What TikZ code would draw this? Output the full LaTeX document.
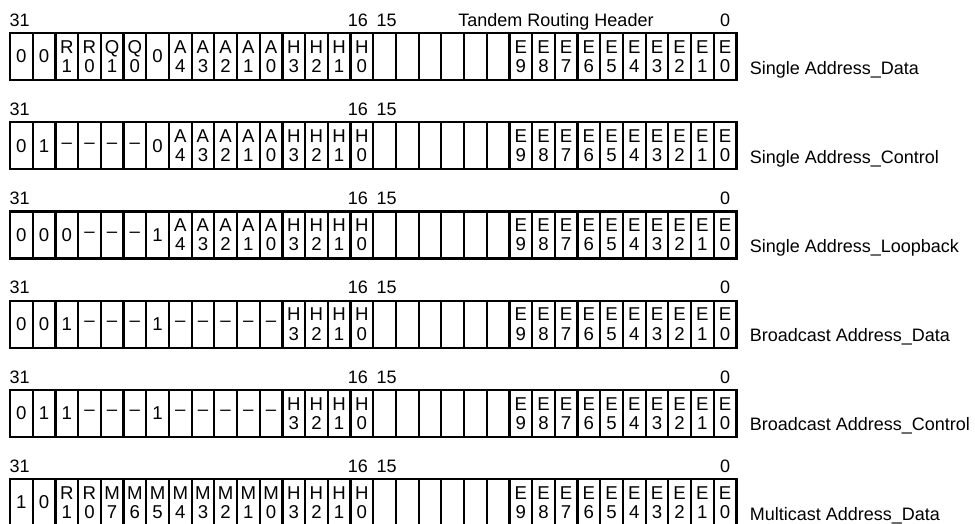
\documentclass[tikz,border=0pt]{standalone}
\usepackage{fontspec}
\setmainfont{Liberation Sans}
\usetikzlibrary{positioning}

\tikzset{
  bitcell/.style={draw, line width=1.1pt, minimum width=11.35pt, minimum height=23.5pt,
    inner sep=0pt, align=center, font=\fontsize{9.3}{9.6}\selectfont},
  bitnum/.style={inner sep=0pt, font=\fontsize{9}{9}\selectfont},
  rowname/.style={inner sep=0pt, anchor=base west, font=\fontsize{9}{9}\selectfont},
}

\begin{document}
\begin{tikzpicture}[x=0.5pt, y=-0.5pt]
  \useasboundingbox (0,0) rectangle (975,524);

  % Lower half-word: bits 15..0, same in every row
  \foreach \rname/\ytop in {sdata/33, sctrl/122.2, sloop/211.4, bdata/300.6, bctrl/389.8, mdata/479} {
    \foreach \txt [count=\c from 16] in {{},{},{},{},{},{},
        {E\\9},{E\\8},{E\\7},{E\\6},{E\\5},{E\\4},{E\\3},{E\\2},{E\\1},{E\\0}} {
      \pgfmathtruncatemacro\b{31-\c}
      \node[bitcell] (\rname-\b) at (21.35+22.7*\c, \ytop+23.5) {\txt};
    }
  }

  % Upper half-word: bits 31..16
  \foreach \txt [count=\c from 0] in {0,0,{R\\1},{R\\0},{Q\\1},{Q\\0},0,
      {A\\4},{A\\3},{A\\2},{A\\1},{A\\0},{H\\3},{H\\2},{H\\1},{H\\0}} {
    \pgfmathtruncatemacro\b{31-\c}
    \node[bitcell] (sdata-\b) at (21.35+22.7*\c, 56.5) {\txt};
  }
  \foreach \txt [count=\c from 0] in {0,1,--,--,--,--,0,
      {A\\4},{A\\3},{A\\2},{A\\1},{A\\0},{H\\3},{H\\2},{H\\1},{H\\0}} {
    \pgfmathtruncatemacro\b{31-\c}
    \node[bitcell] (sctrl-\b) at (21.35+22.7*\c, 145.7) {\txt};
  }
  \foreach \txt [count=\c from 0] in {0,0,0,--,--,--,1,
      {A\\4},{A\\3},{A\\2},{A\\1},{A\\0},{H\\3},{H\\2},{H\\1},{H\\0}} {
    \pgfmathtruncatemacro\b{31-\c}
    \node[bitcell] (sloop-\b) at (21.35+22.7*\c, 234.9) {\txt};
  }
  \foreach \txt [count=\c from 0] in {0,0,1,--,--,--,1,
      --,--,--,--,--,{H\\3},{H\\2},{H\\1},{H\\0}} {
    \pgfmathtruncatemacro\b{31-\c}
    \node[bitcell] (bdata-\b) at (21.35+22.7*\c, 324.1) {\txt};
  }
  \foreach \txt [count=\c from 0] in {0,1,1,--,--,--,1,
      --,--,--,--,--,{H\\3},{H\\2},{H\\1},{H\\0}} {
    \pgfmathtruncatemacro\b{31-\c}
    \node[bitcell] (bctrl-\b) at (21.35+22.7*\c, 413.3) {\txt};
  }
  \foreach \txt [count=\c from 0] in {1,0,{R\\1},{R\\0},
      {M\\7},{M\\6},{M\\5},{M\\4},{M\\3},{M\\2},{M\\1},{M\\0},{H\\3},{H\\2},{H\\1},{H\\0}} {
    \pgfmathtruncatemacro\b{31-\c}
    \node[bitcell] (mdata-\b) at (21.35+22.7*\c, 502.5) {\txt};
  }

  % Bit numbers
  \foreach \rname in {sdata, sctrl, sloop, bdata, bctrl, mdata} {
    \node[bitnum, above=2.5pt of \rname-31, xshift=-0.8pt] (\rname-n31) {31};
    \node[bitnum, above=2.5pt of \rname-16, xshift=-2pt] (\rname-n16) {16};
    \node[bitnum, above=2.5pt of \rname-15, xshift=1pt] (\rname-n15) {15};
  }
  \foreach \rname in {sdata, sloop, bdata, bctrl, mdata}
    \node[bitnum, above=2.5pt of \rname-0] (\rname-n0) {0};

  % Title
  \node[bitnum, anchor=base] (title) at (556,27) {Tandem Routing Header};

  % Row names
  \node[rowname] (sdata-name) at ([xshift=6pt, yshift=3.5pt]sdata-0.south east) {Single Address\_Data};
  \node[rowname] (sctrl-name) at ([xshift=6pt, yshift=3.5pt]sctrl-0.south east) {Single Address\_Control};
  \node[rowname] (sloop-name) at ([xshift=6pt, yshift=3.5pt]sloop-0.south east) {Single Address\_Loopback};
  \node[rowname] (bdata-name) at ([xshift=6pt, yshift=3.5pt]bdata-0.south east) {Broadcast Address\_Data};
  \node[rowname] (bctrl-name) at ([xshift=6pt, yshift=3.5pt]bctrl-0.south east) {Broadcast Address\_Control};
  \node[rowname] (mdata-name) at ([xshift=6pt, yshift=3.5pt]mdata-0.south east) {Multicast Address\_Data};

\end{tikzpicture}
\end{document}
